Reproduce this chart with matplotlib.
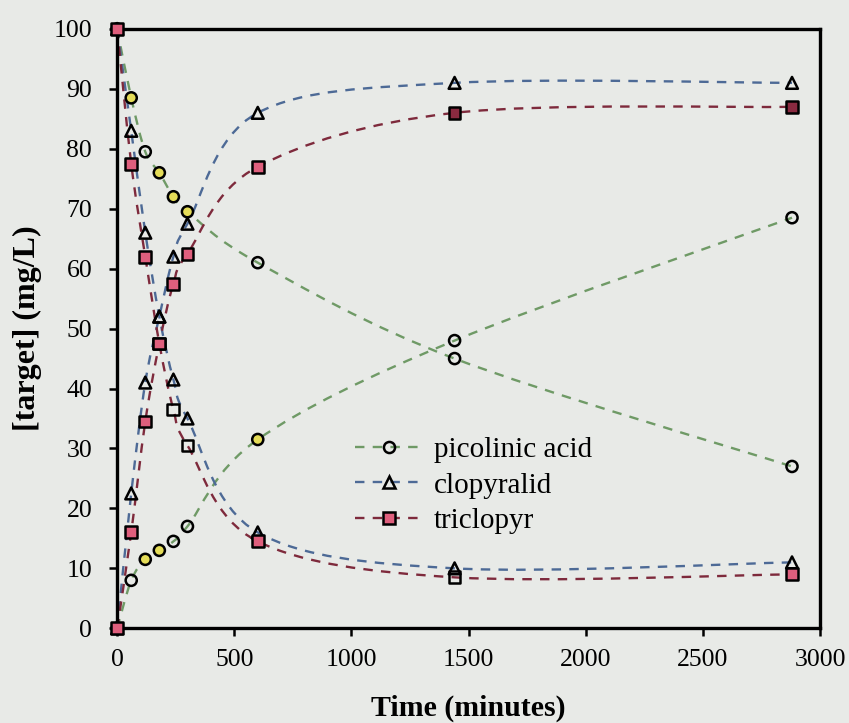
import matplotlib
matplotlib.use("Agg")
import matplotlib.pyplot as plt
from matplotlib.path import Path
from matplotlib.patches import PathPatch
from matplotlib.lines import Line2D
import numpy as np

plt.rcParams['font.family'] = ['Liberation Serif', 'DejaVu Serif']

# Sampling times (minutes)
time_min = [0, 60, 120, 180, 240, 300, 600, 1440, 2880]

# Concentrations (mg/L): each compound decaying as parent, and formed as product
picolinic_decay = [100, 88.5, 79.5, 76, 72, 69.5, 61, 45, 27]
picolinic_formed = [0, 8, 11.5, 13, 14.5, 17, 31.5, 48, 68.5]
clopyralid_decay = [100, 83, 66, 52, 41.5, 35, 16, 10, 11]
clopyralid_formed = [0, 22.5, 41, 52, 62, 67.5, 86, 91, 91]
triclopyr_decay = [100, 77.5, 62, 47.5, 36.5, 30.5, 14.5, 8.5, 9]
triclopyr_formed = [0, 16, 34.5, 47.5, 57.5, 62.5, 77, 86, 87]

series_labels = ["picolinic acid", "clopyralid", "triclopyr"]
x_ticks = [0, 500, 1000, 1500, 2000, 2500, 3000]
y_ticks = [0, 10, 20, 30, 40, 50, 60, 70, 80, 90, 100]

GREEN = '#6f9a66'
BLUE = '#4d6a96'
MAROON = '#7e2a3c'
YELLOW = '#e4dc58'
PINK = '#df5f7d'
BG = '#e8eae7'

Y, N, P, D = YELLOW, 'none', PINK, '#8a2a40'
fill_pic_decay = [N, Y, N, Y, Y, Y, N, N, N]
fill_pic_formed = [N, N, Y, Y, N, N, Y, N, N]
fill_tri_decay = [P, P, P, P, N, N, P, N, P]
fill_tri_formed = [P, P, P, P, P, P, P, D, D]


def smooth_path(x, y):
    """Cubic Bezier path through the points (Catmull-Rom style smoothing)."""
    pts = np.column_stack([x, y]).astype(float)
    n = len(pts)
    verts = [pts[0]]
    codes = [Path.MOVETO]
    for i in range(n - 1):
        p_prev = pts[i - 1] if i > 0 else pts[i]
        p_next2 = pts[i + 2] if i + 2 < n else pts[i + 1]
        c1 = pts[i] + (pts[i + 1] - p_prev) / 6.0
        c2 = pts[i + 1] - (p_next2 - pts[i]) / 6.0
        verts += [c1, c2, pts[i + 1]]
        codes += [Path.CURVE4] * 3
    return Path(verts, codes)


fig = plt.figure(figsize=(8.49, 7.23), dpi=100, facecolor=BG)
ax = fig.add_axes([0.138, 0.131, 0.828, 0.829], facecolor=BG)

dash = (0, (4, 3.5))
curves = [
    (picolinic_decay, GREEN), (picolinic_formed, GREEN),
    (clopyralid_decay, BLUE), (clopyralid_formed, BLUE),
    (triclopyr_decay, MAROON), (triclopyr_formed, MAROON),
]
for vals, col in curves:
    patch = PathPatch(smooth_path(time_min, vals), facecolor='none',
                      edgecolor=col, lw=1.7, linestyle=dash, zorder=2)
    ax.add_patch(patch)

mk = dict(edgecolors='black', linewidths=1.8, clip_on=False, zorder=5)
ax.scatter(time_min, clopyralid_decay, s=8.5**2, marker='^', facecolors='none', **mk)
ax.scatter(time_min, clopyralid_formed, s=8.5**2, marker='^', facecolors='none', **mk)
ax.scatter(time_min, picolinic_decay, s=8**2, marker='o', facecolors=fill_pic_decay, **mk)
ax.scatter(time_min, picolinic_formed, s=8**2, marker='o', facecolors=fill_pic_formed, **mk)
ax.scatter(time_min, triclopyr_decay, s=8.5**2, marker='s', facecolors=fill_tri_decay, **mk)
ax.scatter(time_min, triclopyr_formed, s=8.5**2, marker='s', facecolors=fill_tri_formed, **mk)

ax.set_xlim(0, 3000)
ax.set_ylim(0, 100)
ax.set_xticks(x_ticks)
ax.set_yticks(y_ticks)
ax.set_xticklabels([str(t) for t in x_ticks])
ax.set_yticklabels([str(t) for t in y_ticks])
ax.tick_params(axis='both', direction='out', length=6, width=1.8, labelsize=18.5)
ax.tick_params(axis='y', pad=12)
ax.tick_params(axis='x', pad=9)
for sp in ax.spines.values():
    sp.set_linewidth(2.4)
    sp.set_color('black')

ax.set_xlabel("Time (minutes)", fontsize=21.5, fontweight='bold', labelpad=17)
ax.set_ylabel("[target] (mg/L)", fontsize=23, fontweight='bold', labelpad=8)

handles = [
    Line2D([], [], color=GREEN, lw=1.7, linestyle=dash, marker='o', ms=8,
           mfc='none', mec='black', mew=1.8),
    Line2D([], [], color=BLUE, lw=1.7, linestyle=dash, marker='^', ms=8.5,
           mfc='none', mec='black', mew=1.8),
    Line2D([], [], color=MAROON, lw=1.7, linestyle=dash, marker='s', ms=8.5,
           mfc=PINK, mec='black', mew=1.8),
]
ax.legend(handles, series_labels, loc='upper left', bbox_to_anchor=(0.339, 0.320),
          frameon=False, fontsize=21, handlelength=2.3, handletextpad=0.4,
          labelspacing=0.32, borderpad=0, borderaxespad=0, numpoints=1)

fig.savefig("out.png", dpi=100, facecolor=BG)
